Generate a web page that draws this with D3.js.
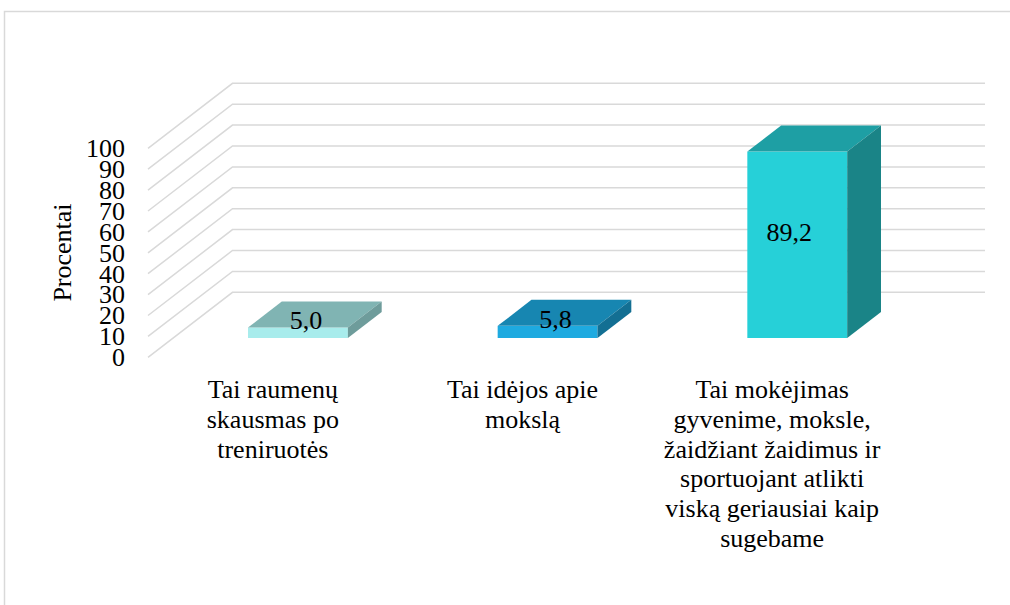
<!DOCTYPE html>
<html>
<head>
<meta charset="utf-8">
<script src="https://cdn.jsdelivr.net/npm/d3@7"></script>
<style>
  body { margin: 0; background: #fff; }
  svg text { font-family: "Liberation Serif", "Times New Roman", serif; fill: #000; }
</style>
</head>
<body>
<svg id="chart" width="1010" height="605"></svg>
<script>
// chart data
var categories = ["Tai raumenų skausmas po treniruotės", "Tai idėjos apie mokslą",
  "Tai mokėjimas gyvenime, moksle, žaidžiant žaidimus ir sportuojant atlikti viską geriausiai kaip sugebame"];
var categoryLines = [
  ["Tai raumenų", "skausmas po", "treniruotės"],
  ["Tai idėjos apie", "mokslą"],
  ["Tai mokėjimas", "gyvenime, moksle,", "žaidžiant žaidimus ir", "sportuojant atlikti", "viską geriausiai kaip", "sugebame"]
];
var values = [5.0, 5.8, 89.2];
var valueLabels = ["5,0", "5,8", "89,2"];
var yTicks = [0, 10, 20, 30, 40, 50, 60, 70, 80, 90, 100];
var yTitle = "Procentai";

// colours per bar: front, top, side
var frontColors = ["#a8ecec", "#1eaae0", "#26d0d8"];
var topColors = ["#80b4b3", "#1786b1", "#1e9fa4"];
var sideColors = ["#6e9c9b", "#136f93", "#1a8487"];

var svg = d3.select("#chart");

// frame round the chart area
svg.append("rect")
  .attr("x", 4.5).attr("y", 11.5)
  .attr("width", 1020).attr("height", 620)
  .attr("fill", "none").attr("stroke", "#d9d9d9").attr("stroke-width", 1.5);

// 3d layout: front plane, wall depth
var plotLeft = 148, plotRight = 897, gridRight = 985;
var depthX = 84.5, depthY = 65;
var barStart = 0.297, barDepth = 0.4; // fractions of the full depth

var yScale = d3.scaleLinear().domain([0, 100]).range([357.3, 148.3]);

var xFront = d3.scaleBand().domain(d3.range(categories.length))
  .range([plotLeft, plotRight]).paddingInner(0.6).paddingOuter(0.3);
var xBar = d3.scaleBand().domain(d3.range(categories.length))
  .range([plotLeft + barStart * depthX, plotRight + barStart * depthX])
  .paddingInner(0.6).paddingOuter(0.3);

// gridlines: side wall diagonal then back wall
svg.append("g").selectAll("polyline").data(yTicks).enter()
  .append("polyline")
  .attr("fill", "none")
  .attr("stroke", "#d9d9d9")
  .attr("stroke-width", 1.5)
  .attr("points", function(d) {
    var y = yScale(d);
    return [[plotLeft, y], [plotLeft + depthX, y - depthY], [gridRight, y - depthY]].join(" ");
  });

// y tick labels
var yAxis = d3.axisLeft(yScale).tickValues(yTicks).tickSize(0).tickPadding(23)
  .tickFormat(function(d) { return d; });
var ga = svg.append("g").attr("transform", "translate(" + plotLeft + ",0)").call(yAxis);
ga.select(".domain").remove();
ga.selectAll("text")
  .attr("font-family", "Liberation Serif, Times New Roman, serif")
  .attr("font-size", 26)
  .attr("fill", "#000");

svg.append("text")
  .attr("transform", "translate(71,252.5) rotate(-90)")
  .attr("text-anchor", "middle")
  .attr("font-size", 26)
  .text(yTitle);

// bars
var bx = barDepth * depthX, by = barDepth * depthY;
var lift = barStart * depthY;
function yBar(v) { return yScale(v) - lift; }

var bars = svg.append("g").selectAll("g").data(values).enter().append("g");

bars.append("rect")
  .attr("x", function(d, i) { return xBar(i); })
  .attr("y", function(d) { return yBar(d); })
  .attr("width", xBar.bandwidth())
  .attr("height", function(d) { return yBar(0) - yBar(d); })
  .attr("fill", function(d, i) { return frontColors[i]; });

bars.append("polygon")
  .attr("fill", function(d, i) { return topColors[i]; })
  .attr("points", function(d, i) {
    var x = xBar(i), w = xBar.bandwidth(), t = yBar(d);
    return [[x, t], [x + bx, t - by], [x + w + bx, t - by], [x + w, t]].join(" ");
  });

bars.append("polygon")
  .attr("fill", function(d, i) { return sideColors[i]; })
  .attr("points", function(d, i) {
    var x = xBar(i) + xBar.bandwidth(), t = yBar(d), b = yBar(0);
    return [[x, t], [x + bx, t - by], [x + bx, b - by], [x, b]].join(" ");
  });

// value labels at the middle of each box
bars.append("text")
  .attr("text-anchor", "middle")
  .attr("dy", "0.35em")
  .attr("font-size", 26)
  .attr("x", function(d, i) {
    var h = yBar(0) - yBar(d);
    return xBar(i) + xBar.bandwidth() / 2 + (h < 40 ? 8 : -8);
  })
  .attr("y", function(d) { return (yBar(d) + yBar(0)) / 2 - by / 2; })
  .text(function(d, i) { return valueLabels[i]; });

// category labels under the front plane
var lineH = 29.8;
var cats = svg.append("g").selectAll("text").data(categoryLines).enter()
  .append("text")
  .attr("text-anchor", "middle")
  .attr("font-size", 26)
  .attr("x", function(d, i) { return xFront(i) + xFront.bandwidth() / 2; })
  .attr("y", 398);
cats.selectAll("tspan").data(function(d) { return d; }).enter()
  .append("tspan")
  .attr("x", function() { return d3.select(this.parentNode).attr("x"); })
  .attr("y", function(d, j) { return 398 + j * lineH; })
  .text(function(d) { return d; });
</script>
</body>
</html>
